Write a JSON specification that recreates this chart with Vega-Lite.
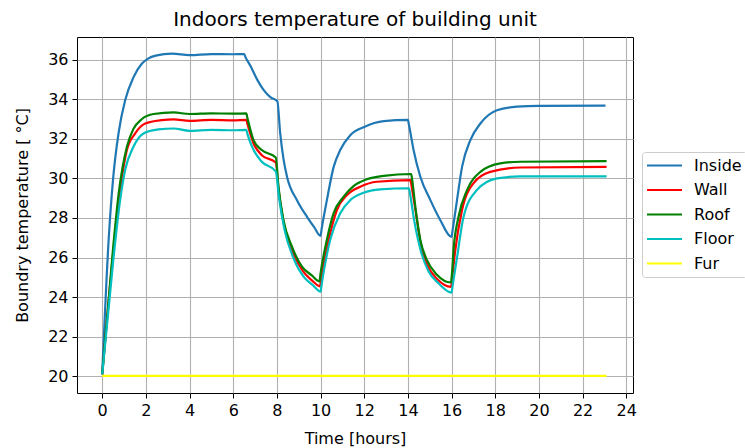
{
  "$schema": "https://vega.github.io/schema/vega-lite/v6.json",
  "width": 556,
  "height": 356,
  "autosize": "none",
  "padding": {"left": 77, "top": 37, "right": 112, "bottom": 55},
  "background": "white",
  "title": {
    "text": "Indoors temperature of building unit",
    "fontSize": 20,
    "fontWeight": "normal",
    "font": "DejaVu Sans",
    "color": "#000000",
    "anchor": "middle",
    "offset": 7
  },
  "data": {
    "values": [
      {"series": "Inside", "time": 0, "temp": 20.1},
      {"series": "Inside", "time": 0.3, "temp": 27.0},
      {"series": "Inside", "time": 0.5, "temp": 30.0},
      {"series": "Inside", "time": 0.75, "temp": 32.3},
      {"series": "Inside", "time": 1.05, "temp": 33.95},
      {"series": "Inside", "time": 1.43, "temp": 35.1},
      {"series": "Inside", "time": 1.82, "temp": 35.8},
      {"series": "Inside", "time": 2.1, "temp": 36.05},
      {"series": "Inside", "time": 2.45, "temp": 36.2},
      {"series": "Inside", "time": 3.2, "temp": 36.3},
      {"series": "Inside", "time": 4.0, "temp": 36.22},
      {"series": "Inside", "time": 5.0, "temp": 36.28},
      {"series": "Inside", "time": 6.0, "temp": 36.27},
      {"series": "Inside", "time": 6.5, "temp": 36.28},
      {"series": "Inside", "time": 6.55, "temp": 36.15},
      {"series": "Inside", "time": 6.78, "temp": 35.7},
      {"series": "Inside", "time": 7.09, "temp": 35.0},
      {"series": "Inside", "time": 7.39, "temp": 34.47},
      {"series": "Inside", "time": 7.7, "temp": 34.1},
      {"series": "Inside", "time": 8.02, "temp": 33.9},
      {"series": "Inside", "time": 8.15, "temp": 32.3},
      {"series": "Inside", "time": 8.3, "temp": 31.0},
      {"series": "Inside", "time": 8.46, "temp": 30.1},
      {"series": "Inside", "time": 8.92, "temp": 28.9},
      {"series": "Inside", "time": 9.38, "temp": 28.06},
      {"series": "Inside", "time": 9.7, "temp": 27.55},
      {"series": "Inside", "time": 10.0, "temp": 27.1},
      {"series": "Inside", "time": 10.05, "temp": 27.45},
      {"series": "Inside", "time": 10.29, "temp": 28.9},
      {"series": "Inside", "time": 10.6, "temp": 30.58},
      {"series": "Inside", "time": 10.9, "temp": 31.43},
      {"series": "Inside", "time": 11.36, "temp": 32.18},
      {"series": "Inside", "time": 12.0, "temp": 32.6},
      {"series": "Inside", "time": 12.9, "temp": 32.89},
      {"series": "Inside", "time": 14.0, "temp": 32.95},
      {"series": "Inside", "time": 14.05, "temp": 32.7},
      {"series": "Inside", "time": 14.26, "temp": 31.43},
      {"series": "Inside", "time": 14.57, "temp": 30.08},
      {"series": "Inside", "time": 15.03, "temp": 28.9},
      {"series": "Inside", "time": 15.48, "temp": 27.9},
      {"series": "Inside", "time": 16.0, "temp": 27.05},
      {"series": "Inside", "time": 16.05, "temp": 27.4},
      {"series": "Inside", "time": 16.25, "temp": 28.9},
      {"series": "Inside", "time": 16.48, "temp": 30.58},
      {"series": "Inside", "time": 16.86, "temp": 31.93},
      {"series": "Inside", "time": 17.32, "temp": 32.77},
      {"series": "Inside", "time": 18.08, "temp": 33.44},
      {"series": "Inside", "time": 19.0, "temp": 33.62},
      {"series": "Inside", "time": 20.0, "temp": 33.66},
      {"series": "Inside", "time": 23.05, "temp": 33.67},

      {"series": "Wall", "time": 0, "temp": 20.1},
      {"series": "Wall", "time": 0.5, "temp": 26.2},
      {"series": "Wall", "time": 0.8, "temp": 29.2},
      {"series": "Wall", "time": 1.13, "temp": 31.43},
      {"series": "Wall", "time": 1.51, "temp": 32.27},
      {"series": "Wall", "time": 1.97, "temp": 32.77},
      {"series": "Wall", "time": 2.73, "temp": 32.94},
      {"series": "Wall", "time": 3.27, "temp": 32.98},
      {"series": "Wall", "time": 4.0, "temp": 32.9},
      {"series": "Wall", "time": 5.0, "temp": 32.95},
      {"series": "Wall", "time": 6.0, "temp": 32.93},
      {"series": "Wall", "time": 6.6, "temp": 32.95},
      {"series": "Wall", "time": 6.65, "temp": 32.75},
      {"series": "Wall", "time": 6.93, "temp": 31.76},
      {"series": "Wall", "time": 7.31, "temp": 31.17},
      {"series": "Wall", "time": 7.95, "temp": 30.8},
      {"series": "Wall", "time": 8.08, "temp": 29.4},
      {"series": "Wall", "time": 8.32, "temp": 27.7},
      {"series": "Wall", "time": 8.72, "temp": 26.3},
      {"series": "Wall", "time": 9.2, "temp": 25.3},
      {"series": "Wall", "time": 9.6, "temp": 24.85},
      {"series": "Wall", "time": 9.97, "temp": 24.55},
      {"series": "Wall", "time": 10.03, "temp": 24.95},
      {"series": "Wall", "time": 10.37, "temp": 26.89},
      {"series": "Wall", "time": 10.75, "temp": 28.4},
      {"series": "Wall", "time": 11.21, "temp": 29.16},
      {"series": "Wall", "time": 11.82, "temp": 29.58},
      {"series": "Wall", "time": 12.58, "temp": 29.83},
      {"series": "Wall", "time": 14.12, "temp": 29.91},
      {"series": "Wall", "time": 14.17, "temp": 29.6},
      {"series": "Wall", "time": 14.36, "temp": 28.3},
      {"series": "Wall", "time": 14.6, "temp": 26.6},
      {"series": "Wall", "time": 14.9, "temp": 25.6},
      {"series": "Wall", "time": 15.35, "temp": 24.9},
      {"series": "Wall", "time": 15.98, "temp": 24.52},
      {"series": "Wall", "time": 16.03, "temp": 24.95},
      {"series": "Wall", "time": 16.15, "temp": 26.2},
      {"series": "Wall", "time": 16.48, "temp": 28.4},
      {"series": "Wall", "time": 17.0, "temp": 29.75},
      {"series": "Wall", "time": 17.77, "temp": 30.33},
      {"series": "Wall", "time": 19.15, "temp": 30.55},
      {"series": "Wall", "time": 23.1, "temp": 30.58},

      {"series": "Roof", "time": 0, "temp": 20.1},
      {"series": "Roof", "time": 0.5, "temp": 26.5},
      {"series": "Roof", "time": 0.75, "temp": 29.2},
      {"series": "Roof", "time": 1.13, "temp": 31.6},
      {"series": "Roof", "time": 1.43, "temp": 32.5},
      {"series": "Roof", "time": 1.82, "temp": 33.0},
      {"series": "Roof", "time": 2.35, "temp": 33.25},
      {"series": "Roof", "time": 3.27, "temp": 33.33},
      {"series": "Roof", "time": 4.0, "temp": 33.25},
      {"series": "Roof", "time": 5.0, "temp": 33.28},
      {"series": "Roof", "time": 6.0, "temp": 33.27},
      {"series": "Roof", "time": 6.6, "temp": 33.28},
      {"series": "Roof", "time": 6.65, "temp": 33.05},
      {"series": "Roof", "time": 6.93, "temp": 31.93},
      {"series": "Roof", "time": 7.31, "temp": 31.43},
      {"series": "Roof", "time": 7.95, "temp": 31.05},
      {"series": "Roof", "time": 8.07, "temp": 29.6},
      {"series": "Roof", "time": 8.3, "temp": 27.9},
      {"series": "Roof", "time": 8.69, "temp": 26.55},
      {"series": "Roof", "time": 9.15, "temp": 25.54},
      {"series": "Roof", "time": 9.6, "temp": 25.1},
      {"series": "Roof", "time": 9.95, "temp": 24.8},
      {"series": "Roof", "time": 10.0, "temp": 25.2},
      {"series": "Roof", "time": 10.29, "temp": 26.9},
      {"series": "Roof", "time": 10.6, "temp": 28.24},
      {"series": "Roof", "time": 11.05, "temp": 29.07},
      {"series": "Roof", "time": 11.51, "temp": 29.61},
      {"series": "Roof", "time": 12.12, "temp": 29.96},
      {"series": "Roof", "time": 12.89, "temp": 30.13},
      {"series": "Roof", "time": 14.15, "temp": 30.22},
      {"series": "Roof", "time": 14.2, "temp": 29.9},
      {"series": "Roof", "time": 14.34, "temp": 28.57},
      {"series": "Roof", "time": 14.57, "temp": 26.89},
      {"series": "Roof", "time": 14.87, "temp": 25.88},
      {"series": "Roof", "time": 15.33, "temp": 25.13},
      {"series": "Roof", "time": 15.97, "temp": 24.74},
      {"series": "Roof", "time": 16.02, "temp": 25.2},
      {"series": "Roof", "time": 16.09, "temp": 26.39},
      {"series": "Roof", "time": 16.32, "temp": 28.06},
      {"series": "Roof", "time": 16.71, "temp": 29.41},
      {"series": "Roof", "time": 17.32, "temp": 30.33},
      {"series": "Roof", "time": 18.23, "temp": 30.76},
      {"series": "Roof", "time": 19.15, "temp": 30.84},
      {"series": "Roof", "time": 23.1, "temp": 30.87},

      {"series": "Floor", "time": 0, "temp": 20.1},
      {"series": "Floor", "time": 0.5, "temp": 25.8},
      {"series": "Floor", "time": 0.82, "temp": 28.9},
      {"series": "Floor", "time": 1.05, "temp": 30.42},
      {"series": "Floor", "time": 1.43, "temp": 31.6},
      {"series": "Floor", "time": 1.89, "temp": 32.27},
      {"series": "Floor", "time": 2.58, "temp": 32.47},
      {"series": "Floor", "time": 3.27, "temp": 32.52},
      {"series": "Floor", "time": 4.0, "temp": 32.4},
      {"series": "Floor", "time": 5.0, "temp": 32.45},
      {"series": "Floor", "time": 6.0, "temp": 32.43},
      {"series": "Floor", "time": 6.6, "temp": 32.45},
      {"series": "Floor", "time": 6.65, "temp": 32.25},
      {"series": "Floor", "time": 6.86, "temp": 31.6},
      {"series": "Floor", "time": 7.31, "temp": 30.84},
      {"series": "Floor", "time": 7.95, "temp": 30.35},
      {"series": "Floor", "time": 8.1, "temp": 29.0},
      {"series": "Floor", "time": 8.35, "temp": 27.4},
      {"series": "Floor", "time": 8.75, "temp": 26.0},
      {"series": "Floor", "time": 9.25, "temp": 25.0},
      {"series": "Floor", "time": 9.65, "temp": 24.6},
      {"series": "Floor", "time": 10.0, "temp": 24.28},
      {"series": "Floor", "time": 10.05, "temp": 24.65},
      {"series": "Floor", "time": 10.44, "temp": 26.89},
      {"series": "Floor", "time": 10.9, "temp": 28.24},
      {"series": "Floor", "time": 11.36, "temp": 28.9},
      {"series": "Floor", "time": 11.97, "temp": 29.27},
      {"series": "Floor", "time": 12.73, "temp": 29.44},
      {"series": "Floor", "time": 14.05, "temp": 29.5},
      {"series": "Floor", "time": 14.1, "temp": 29.2},
      {"series": "Floor", "time": 14.3, "temp": 27.8},
      {"series": "Floor", "time": 14.6, "temp": 26.3},
      {"series": "Floor", "time": 14.95, "temp": 25.3},
      {"series": "Floor", "time": 15.4, "temp": 24.7},
      {"series": "Floor", "time": 16.0, "temp": 24.23},
      {"series": "Floor", "time": 16.05, "temp": 24.6},
      {"series": "Floor", "time": 16.25, "temp": 26.0},
      {"series": "Floor", "time": 16.55, "temp": 28.06},
      {"series": "Floor", "time": 17.16, "temp": 29.41},
      {"series": "Floor", "time": 18.08, "temp": 30.0},
      {"series": "Floor", "time": 19.15, "temp": 30.1},
      {"series": "Floor", "time": 23.1, "temp": 30.1},

      {"series": "Fur", "time": 0, "temp": 20.02},
      {"series": "Fur", "time": 23.1, "temp": 20.02}
    ]
  },
  "mark": {"type": "line", "strokeWidth": 2.2, "interpolate": "monotone", "clip": true},
  "encoding": {
    "x": {
      "field": "time",
      "type": "quantitative",
      "scale": {"domain": [-1.155, 24.31], "nice": false, "zero": false},
      "axis": {
        "title": "Time [hours]",
        "values": [0, 2, 4, 6, 8, 10, 12, 14, 16, 18, 20, 22, 24],
        "titlePadding": 12
      }
    },
    "y": {
      "field": "temp",
      "type": "quantitative",
      "scale": {"domain": [19.16, 37.14], "nice": false, "zero": false},
      "axis": {
        "title": "Boundry temperature [ °C]",
        "values": [20, 22, 24, 26, 28, 30, 32, 34, 36],
        "titlePadding": 17
      }
    },
    "color": {
      "field": "series",
      "type": "nominal",
      "sort": ["Inside", "Wall", "Roof", "Floor", "Fur"],
      "scale": {
        "domain": ["Inside", "Wall", "Roof", "Floor", "Fur"],
        "range": ["#1f77b4", "#ff0000", "#008000", "#00bfbf", "#ffff00"]
      },
      "legend": {
        "title": null,
        "orient": "none",
        "legendX": 565,
        "legendY": 115,
        "symbolType": "M-2.5,0H2.5",
        "symbolSize": 196,
        "symbolStrokeWidth": 2.2,
        "symbolOffset": 9,
        "rowPadding": 7.5,
        "labelOffset": 21,
        "padding": 5,
        "fillColor": "white",
        "strokeColor": "#cccccc",
        "cornerRadius": 3,
        "labelFontSize": 16,
        "labelFont": "DejaVu Sans",
        "labelColor": "#000000"
      }
    }
  },
  "config": {
    "font": "DejaVu Sans",
    "view": {"stroke": "#000000", "strokeWidth": 1},
    "axis": {
      "domain": false,
      "grid": true,
      "gridColor": "#b0b0b0",
      "gridWidth": 1.1,
      "ticks": true,
      "tickColor": "#000000",
      "tickSize": 5,
      "tickWidth": 1,
      "labelFont": "DejaVu Sans",
      "labelFontSize": 16,
      "labelColor": "#000000",
      "labelPadding": 4,
      "labelFlush": false,
      "labelOverlap": false,
      "titleFont": "DejaVu Sans",
      "titleFontSize": 16,
      "titleFontWeight": "normal",
      "titleColor": "#000000"
    }
  }
}
